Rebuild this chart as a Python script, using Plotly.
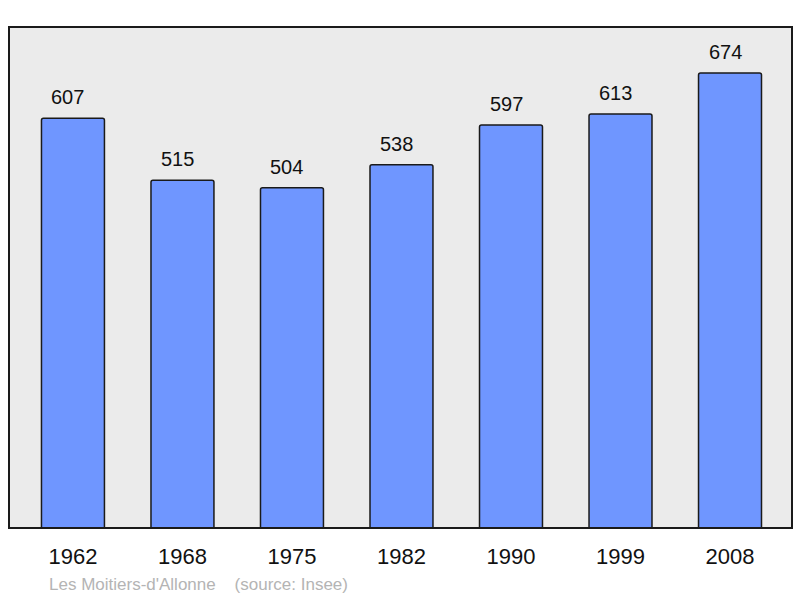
import plotly.graph_objects as go

years = ["1962", "1968", "1975", "1982", "1990", "1999", "2008"]
population = [607, 515, 504, 538, 597, 613, 674]
positions = list(range(len(years)))

fig = go.Figure()
fig.add_trace(go.Bar(
    x=positions, y=population, width=0.575,
    marker=dict(color="#6f96ff", line=dict(color="#1a1a1a", width=1.5), cornerradius=2),
    hoverinfo="skip",
))

for xp, v in zip(positions, population):
    fig.add_annotation(x=xp, y=v, text=str(v), showarrow=False, yanchor="bottom",
                       yshift=8, xshift=-5,
                       font=dict(size=20, color="#111", family="Liberation Sans, Arial"))

fig.add_shape(type="rect", xref="paper", yref="paper", x0=0, y0=0, x1=1, y1=1,
              line=dict(color="#1a1a1a", width=2), layer="above")

fig.add_annotation(xref="paper", yref="paper", x=(47 - 9) / 783, y=-(584 - 528) / 501,
                   xanchor="left", yanchor="middle", showarrow=False,
                   text="Les Moitiers-d'Allonne    (source: Insee)",
                   font=dict(size=17, color="#b4b4b4", family="Liberation Sans, Arial"))

fig.update_layout(
    width=800, height=598,
    margin=dict(l=9, r=8, t=27, b=70),
    plot_bgcolor="#ebebeb", paper_bgcolor="white",
    showlegend=False,
    font=dict(family="Liberation Sans, Arial", color="#111"),
    xaxis=dict(range=[-0.584, 6.566], tickvals=positions, ticktext=years,
               showgrid=False, zeroline=False, ticks="outside", ticklen=9,
               tickcolor="rgba(0,0,0,0)", tickfont=dict(size=22, color="#111"),
               fixedrange=True),
    yaxis=dict(range=[0, 742], showgrid=False, zeroline=False, showticklabels=False,
               fixedrange=True),
)

fig.write_html("out.html", config={"displayModeBar": False},
               post_script="document.body.style.margin='0';document.body.style.overflow='hidden';")
